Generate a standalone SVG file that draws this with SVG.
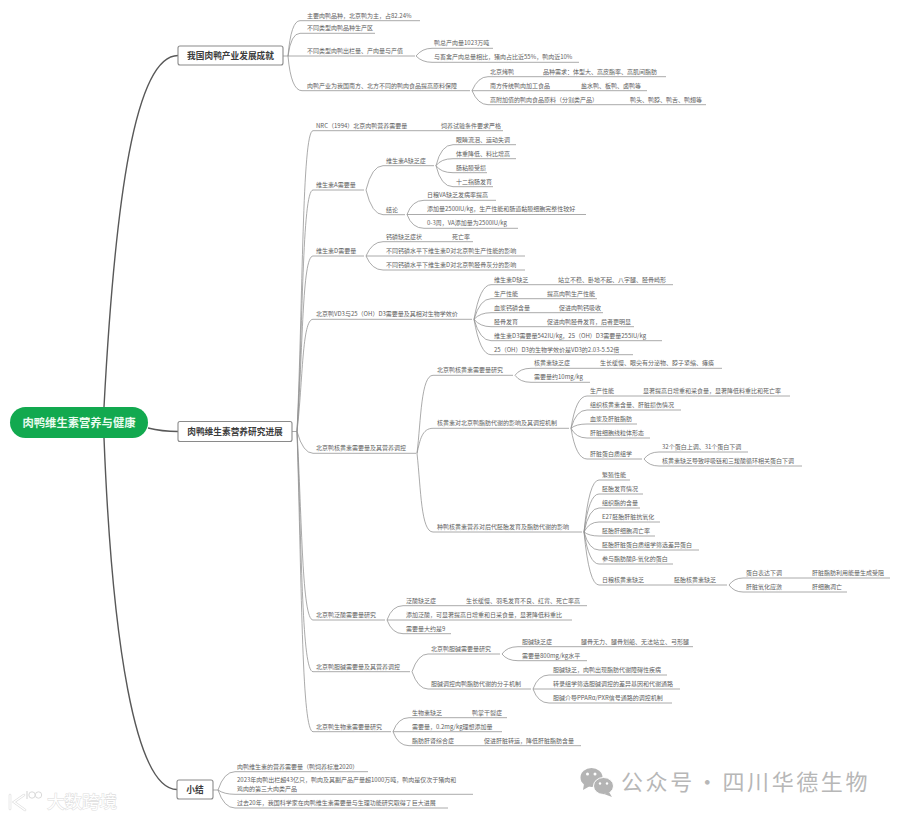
<svg xmlns="http://www.w3.org/2000/svg" width="900" height="818" viewBox="0 0 900 818">
<defs><style>
text{font-family:"Noto Sans CJK SC","Liberation Sans",sans-serif}
.t{font-size:6px;fill:#606060}
.l1{font-size:8.7px;font-weight:700;fill:#3c3c3c;text-anchor:middle}
.box{fill:#fff;stroke:#8a8a8a;stroke-width:1.1}
.c{fill:none;stroke:#8f8f8f;stroke-width:.75}
.m{fill:none;stroke:#585858;stroke-width:1.4}
.wm{font-size:22px;fill:#b7b7b7;letter-spacing:2.6px;word-spacing:-6px}
.wm2{font-size:17.5px;fill:#fff;stroke:#dedede;stroke-width:1.1px;paint-order:stroke}
</style></defs>
<rect width="900" height="818" fill="#fff"/>
<g id="connectors">
<path class="m" d="M104 407C115 200 135 55.500 178 55.500"/>
<path class="m" d="M148 428C160 431 168 431.500 178 431.500"/>
<path class="m" d="M104 438C112 640 135 789.500 177 789.500"/>
<path class="c" d="M283 56H288"/>
<path class="c" d="M288 56Q291 20.700 300 20.700H420M288 56Q291 33.300 300 33.300H375M288 56H415M288 56Q291 90.700 302 90.700H470"/>
<path class="c" d="M416 56Q422 48.300 432 48.300H493M416 56Q422 62.300 432 62.300H579"/>
<path class="c" d="M472 90.700Q478 76.700 488 76.700H666M472 90.700H647M472 90.700Q478 104.700 488 104.700H706"/>
<path class="c" d="M292 431.500H297"/>
<path class="c" d="M297 431.500C303 300 302 130.700 313 130.700H503M297 431.500C303 330 302 190 313 190H364M297 431.500C303 350 302 256 313 256H364M297 431.500C303 380 302 319.300 313 319.300H472M297 431.500Q303 453.300 313 453.300H416M297 431.500C302 520 302 620 313 620H385M297 431.500C302 560 302 671.700 313 671.700H410M297 431.500C302 600 302 731.700 313 731.700H391"/>
<path class="c" d="M366 190Q372 165.700 383 165.700H434M366 190Q372 214.700 383 214.700H405"/>
<path class="c" d="M436 165.700Q441 144.700 453 144.700H516M436 165.700Q441 158.700 453 158.700H516M436 165.700Q441 172.700 453 172.700H487M436 165.700Q441 186.700 453 186.700H493"/>
<path class="c" d="M407 214.500Q412 200.300 424 200.300H496M407 214.500H586M407 214.500Q412 228.300 424 228.300H518"/>
<path class="c" d="M366 256Q372 241.700 383 241.700H473M366 256H525M366 256Q372 270 383 270H525"/>
<path class="c" d="M474 319.300Q480 284.700 491 284.700H673M474 319.300Q480 298.700 491 298.700H597M474 319.300Q480 312.700 491 312.700H603M474 319.300Q480 326.700 491 326.700H634M474 319.300Q480 340.700 491 340.700H662M474 319.300Q480 354.700 491 354.700H633"/>
<path class="c" d="M417 453.300C421 420 421 375.300 433 375.300H513M417 453.300C420 440 422 428.300 433 428.300H569M417 453.300C421 490 421 532 433 532H582"/>
<path class="c" d="M515 375.300Q520 368.300 531 368.300H722M515 375.300Q520 382.300 531 382.300H590"/>
<path class="c" d="M571 428.300Q576 396 587 396H790M571 428.300Q576 410 587 410H681M571 428.300Q576 424 587 424H637M571 428.300Q576 438 587 438H650M571 428.300Q576 459 587 459H642"/>
<path class="c" d="M644 459Q649 452 659 452H748M644 459Q649 466 659 466H802"/>
<path class="c" d="M584 532Q589 480 599 480H630M584 532Q589 494 599 494H643M584 532Q589 508 599 508H640M584 532Q589 522 599 522H660M584 532Q589 536 599 536H655M584 532Q589 550 599 550H699M584 532Q589 564 599 564H673M584 532Q589 585 599 585H727"/>
<path class="c" d="M729 585Q734 578 743 578H890M729 585Q734 592 743 592H847"/>
<path class="c" d="M387 620Q392 605.700 403 605.700H587M387 620H572M387 620Q392 633.700 403 633.700H451"/>
<path class="c" d="M412 671.700Q418 654 428 654H500M412 671.700Q418 689 428 689H531"/>
<path class="c" d="M502 654Q507 646.700 518 646.700H693M502 654Q507 660.700 518 660.700H587"/>
<path class="c" d="M533 689Q538 675 549 675H667M533 689H680M533 689Q538 703 549 703H672"/>
<path class="c" d="M393 731.700Q398 717.700 409 717.700H507M393 731.700H502M393 731.700Q398 745.700 409 745.700H581"/>
<path class="c" d="M213 790H218"/>
<path class="c" d="M218 790Q224 771.700 235 771.700H368M218 790Q224 794.300 235 794.300H473M218 790Q224 808 235 808H448"/>
</g>
<g id="root"><rect x="10" y="407" width="138" height="31" rx="15.500" fill="#12a94f"/><text x="79" y="427" text-anchor="middle" font-size="11.300" font-weight="700" fill="#eafbef">肉鸭维生素营养与健康</text></g>
<g id="b1"><rect class="box" x="178" y="46" width="105" height="19" rx="2"/><text class="l1" x="230.500" y="59">我国肉鸭产业发展成就</text></g>
<g id="b2"><rect class="box" x="178" y="421.500" width="114" height="20" rx="2"/><text class="l1" x="235" y="435">肉鸭维生素营养研究进展</text></g>
<g id="b3"><rect class="box" x="177" y="780" width="36" height="19" rx="2"/><text class="l1" x="195" y="793">小结</text></g>
<g id="a1"><text class="t" x="307" y="17.700">主要肉鸭品种，北京鸭为主，占82.24%</text></g>
<g id="a2"><text class="t" x="307" y="30.300">不同类型肉鸭品种生产区</text></g>
<g id="a3"><text class="t" x="307" y="53">不同类型肉鸭出栏量、产肉量与产值</text></g>
<g id="a31"><text class="t" x="434" y="45.300">鸭总产肉量1023万吨</text></g>
<g id="a32"><text class="t" x="434" y="59.300">与畜禽产肉总量相比，猪肉占比近55%，鸭肉近10%</text></g>
<g id="a4"><text class="t" x="307" y="87.700">肉鸭产业为我国南方、北方不同的鸭肉食品提高原料保障</text></g>
<g id="a41"><text class="t" x="490" y="73.700">北京烤鸭</text><text class="t" x="543" y="73.700">品种需求：体型大、高皮脂率、高肌间脂肪</text></g>
<g id="a42"><text class="t" x="490" y="87.700">南方传统鸭肉加工食品</text><text class="t" x="581" y="87.700">盐水鸭、板鸭、卤鸭等</text></g>
<g id="a43"><text class="t" x="490" y="101.700">高附加值的鸭肉食品原料（分割类产品）</text><text class="t" x="630" y="101.700">鸭头、鸭脖、鸭舌、鸭翅等</text></g>
<g id="n1"><text class="t" x="316" y="127.700">NRC（1994）北京肉鸭营养需要量</text><text class="t" x="441" y="127.700">饲养试验条件要求严格</text></g>
<g id="n2"><text class="t" x="316" y="187">维生素A需要量</text></g>
<g id="n21"><text class="t" x="386" y="162.700">维生素A缺乏症</text></g>
<g id="n211"><text class="t" x="456" y="141.700">眼睛流泪、运动失调</text></g>
<g id="n212"><text class="t" x="456" y="155.700">体重降低、料比增高</text></g>
<g id="n213"><text class="t" x="456" y="169.700">肠粘膜受损</text></g>
<g id="n214"><text class="t" x="456" y="183.700">十二指肠发育</text></g>
<g id="n22"><text class="t" x="386" y="211.700">结论</text></g>
<g id="n221"><text class="t" x="427" y="197.300">日粮VA缺乏发病率提高</text></g>
<g id="n222"><text class="t" x="427" y="211.300">添加量2500IU/kg，生产性能和肠道黏膜细胞完整性较好</text></g>
<g id="n223"><text class="t" x="427" y="225.300">0-3周，VA添加量为2500IU/kg</text></g>
<g id="n3"><text class="t" x="316" y="253">维生素D需要量</text></g>
<g id="n31"><text class="t" x="386" y="238.700">钙磷缺乏症状</text><text class="t" x="452" y="238.700">死亡率</text></g>
<g id="n32"><text class="t" x="386" y="253">不同钙磷水平下维生素D对北京鸭生产性能的影响</text></g>
<g id="n33"><text class="t" x="386" y="267">不同钙磷水平下维生素D对北京鸭胫骨灰分的影响</text></g>
<g id="n4"><text class="t" x="316" y="316.300">北京鸭VD3与25（OH）D3需要量及其相对生物学效价</text></g>
<g id="n41"><text class="t" x="494" y="281.700">维生素D缺乏</text><text class="t" x="558" y="281.700">站立不稳、卧地不起、八字腿、胫骨畸形</text></g>
<g id="n42"><text class="t" x="494" y="295.700">生产性能</text><text class="t" x="547" y="295.700">提高肉鸭生产性能</text></g>
<g id="n43"><text class="t" x="494" y="309.700">血浆钙磷含量</text><text class="t" x="559" y="309.700">促进肉鸭钙吸收</text></g>
<g id="n44"><text class="t" x="494" y="323.700">胫骨发育</text><text class="t" x="547" y="323.700">促进肉鸭胫骨发育，后者更明显</text></g>
<g id="n45"><text class="t" x="494" y="337.700">维生素D3需要量542IU/kg，25（OH）D3需要量255IU/kg</text></g>
<g id="n46"><text class="t" x="494" y="351.700">25（OH）D3的生物学效价是VD3的2.03-5.52倍</text></g>
<g id="n5"><text class="t" x="316" y="450.300">北京鸭核黄素需要量及其营养调控</text></g>
<g id="n51"><text class="t" x="437" y="372.300">北京鸭核黄素需要量研究</text></g>
<g id="n511"><text class="t" x="534" y="365.300">核黄素缺乏症</text><text class="t" x="600" y="365.300">生长缓慢、眼尖有分泌物、脖子紧缩、瘫痪</text></g>
<g id="n512"><text class="t" x="534" y="379.300">需要量约10mg/kg</text></g>
<g id="n52"><text class="t" x="437" y="425.300">核黄素对北京鸭脂肪代谢的影响及其调控机制</text></g>
<g id="n521"><text class="t" x="590" y="393">生产性能</text><text class="t" x="643" y="393">显著提高日增重和采食量，显著降低料重比和死亡率</text></g>
<g id="n522"><text class="t" x="590" y="407">组织核黄素含量、肝脏损伤情况</text></g>
<g id="n523"><text class="t" x="590" y="421">血浆及肝脏脂肪</text></g>
<g id="n524"><text class="t" x="590" y="435">肝脏细胞线粒体形态</text></g>
<g id="n525"><text class="t" x="590" y="456">肝脏蛋白质组学</text></g>
<g id="n5251"><text class="t" x="662" y="449">32个蛋白上调、31个蛋白下调</text></g>
<g id="n5252"><text class="t" x="662" y="463">核黄素缺乏导致呼吸链和三羧酸循环相关蛋白下调</text></g>
<g id="n53"><text class="t" x="437" y="529">种鸭核黄素营养对后代胚胎发育及脂肪代谢的影响</text></g>
<g id="n531"><text class="t" x="602" y="477">繁殖性能</text></g>
<g id="n532"><text class="t" x="602" y="491">胚胎发育情况</text></g>
<g id="n533"><text class="t" x="602" y="505">组织脂的含量</text></g>
<g id="n534"><text class="t" x="602" y="519">E27胚胎肝脏抗氧化</text></g>
<g id="n535"><text class="t" x="602" y="533">胚胎肝细胞凋亡率</text></g>
<g id="n536"><text class="t" x="602" y="547">胚胎肝脏蛋白质组学筛选差异蛋白</text></g>
<g id="n537"><text class="t" x="602" y="561">参与脂肪酸β-氧化的蛋白</text></g>
<g id="n538"><text class="t" x="602" y="582">日粮核黄素缺乏</text><text class="t" x="674" y="582">胚胎核黄素缺乏</text></g>
<g id="n5381"><text class="t" x="746" y="575">蛋白表达下调</text><text class="t" x="812" y="575">肝脏脂肪利用能量生成受阻</text></g>
<g id="n5382"><text class="t" x="746" y="589">肝脏氧化应激</text><text class="t" x="812" y="589">肝细胞凋亡</text></g>
<g id="n6"><text class="t" x="316" y="617">北京鸭泛酸需要量研究</text></g>
<g id="n61"><text class="t" x="406" y="602.700">泛酸缺乏症</text><text class="t" x="466" y="602.700">生长缓慢、羽毛发育不良、红背、死亡率高</text></g>
<g id="n62"><text class="t" x="406" y="616.700">添加泛酸，可显著提高日增重和日采食量，显著降低料重比</text></g>
<g id="n63"><text class="t" x="406" y="630.700">需要量大约是9</text></g>
<g id="n7"><text class="t" x="316" y="668.700">北京鸭胆碱需要量及其营养调控</text></g>
<g id="n71"><text class="t" x="431" y="651">北京鸭胆碱需要量研究</text></g>
<g id="n711"><text class="t" x="522" y="643.700">胆碱缺乏症</text><text class="t" x="581" y="643.700">腿骨无力、腿骨划船、无法站立、弓形腿</text></g>
<g id="n712"><text class="t" x="522" y="657.700">需要量800mg/kg水平</text></g>
<g id="n72"><text class="t" x="431" y="686">胆碱调控肉鸭脂肪代谢的分子机制</text></g>
<g id="n721"><text class="t" x="553" y="672">胆碱缺乏，肉鸭出现脂肪代谢障碍性疾病</text></g>
<g id="n722"><text class="t" x="553" y="686">转录组学筛选胆碱调控的差异基因和代谢通路</text></g>
<g id="n723"><text class="t" x="553" y="700">胆碱介导PPARα/PXR信号通路的调控机制</text></g>
<g id="n8"><text class="t" x="316" y="728.700">北京鸭生物素需要量研究</text></g>
<g id="n81"><text class="t" x="412" y="714.700">生物素缺乏</text><text class="t" x="472" y="714.700">鸭掌干裂症</text></g>
<g id="n82"><text class="t" x="412" y="728.700">需要量，0.2mg/kg理想添加量</text></g>
<g id="n83"><text class="t" x="412" y="742.700">脂肪肝肾综合症</text><text class="t" x="484" y="742.700">促进肝脏转运，降低肝脏脂肪含量</text></g>
<g id="s1"><text class="t" x="237" y="768.700">肉鸭维生素的营养需要量（鸭饲养标准2020）</text></g>
<g id="s2"><text class="t" x="237" y="782">2023年肉鸭出栏超43亿只，鸭肉及其副产品产量超1000万吨，鸭肉是仅次于猪肉和</text><text class="t" x="237" y="791">鸡肉的第三大肉类产品</text></g>
<g id="s3"><text class="t" x="237" y="805">过去20年，我国科学家在肉鸭维生素需要量与生理功能研究取得了巨大进展</text></g>
<g id="watermark-right">
<ellipse cx="591.500" cy="777.500" rx="11" ry="9.500" fill="#b4b4b4"/><path d="M584 784l-1 6 7-4z" fill="#b4b4b4"/>
<ellipse cx="603.500" cy="786" rx="10" ry="8.500" fill="#b4b4b4" stroke="#fff"/><path d="M609 792l3 5-8-3z" fill="#b4b4b4"/>
<g fill="#fff"><circle cx="587.500" cy="774" r="1.500"/><circle cx="595" cy="774" r="1.500"/><circle cx="600" cy="783.500" r="1.200"/><circle cx="607" cy="783.500" r="1.200"/></g>
<text class="wm" x="621" y="790">公众号 · 四川华德生物</text>
</g>
<g id="watermark-left">
<path d="M10 795V809M24 795L14 802L25 810" fill="none" stroke="#dedede" stroke-width="2.600" stroke-linecap="round"/>
<path d="M10 795V809M24 795L14 802L25 810" fill="none" stroke="#fff" stroke-width="1.300" stroke-linecap="round"/>
<path d="M27 791V799" stroke="#dadada" stroke-width="1.200"/><circle cx="32" cy="795" r="3.200" fill="#fff" stroke="#dadada"/><circle cx="38.500" cy="795" r="3.200" fill="#fff" stroke="#dadada"/>
<text class="wm2" x="47" y="808">大数跨境</text>
</g>
</svg>
